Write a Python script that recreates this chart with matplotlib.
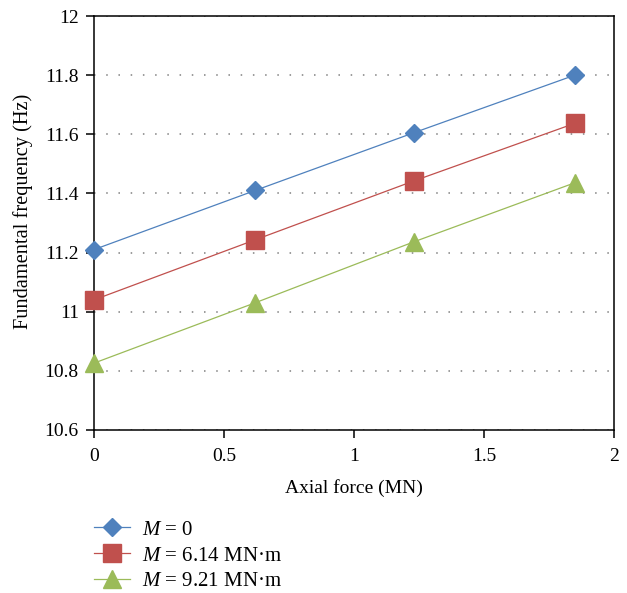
import matplotlib
matplotlib.use("Agg")
import matplotlib.pyplot as plt
from matplotlib.ticker import FuncFormatter, MultipleLocator

# ---------------------------
# Data
# ---------------------------
axial_force = [0, 0.62, 1.23, 1.85]
freq_m0 = [11.21, 11.41, 11.605, 11.80]
freq_m614 = [11.04, 11.243, 11.442, 11.637]
freq_m921 = [10.826, 11.03, 11.236, 11.436]

labels = ["$M$ = 0", "$M$ = 6.14 MN·m", "$M$ = 9.21 MN·m"]
colors = ["#4F81BD", "#C0504D", "#9BBB59"]

# ---------------------------
# Style
# ---------------------------
plt.rcParams["font.family"] = "Liberation Serif"
plt.rcParams["mathtext.fontset"] = "custom"
plt.rcParams["mathtext.rm"] = "Liberation Serif"
plt.rcParams["mathtext.it"] = "Liberation Serif:italic"

fig = plt.figure(figsize=(6.27, 5.93), dpi=100)
ax = fig.add_axes([0.150, 0.275, 0.829, 0.698])

ax.plot(axial_force, freq_m0, color=colors[0], lw=0.9, marker="D",
        ms=9.5, label=labels[0], clip_on=False, zorder=3)
ax.plot(axial_force, freq_m614, color=colors[1], lw=0.9, marker="s",
        ms=13, label=labels[1], clip_on=False, zorder=3)
ax.plot(axial_force, freq_m921, color=colors[2], lw=0.9, marker="^",
        ms=13.5, label=labels[2], clip_on=False, zorder=3)

ax.set_xlim(0, 2)
ax.set_ylim(10.6, 12)
ax.xaxis.set_major_locator(MultipleLocator(0.5))
ax.yaxis.set_major_locator(MultipleLocator(0.2))
fmt = FuncFormatter(lambda v, p: f"{v:g}")
ax.xaxis.set_major_formatter(fmt)
ax.yaxis.set_major_formatter(fmt)

ax.grid(axis="y", color="#808080", linestyle=(0, (1, 7)), lw=1.1)
ax.set_axisbelow(True)

for s in ax.spines.values():
    s.set_linewidth(1.1)
ax.tick_params(direction="out", length=6, width=1.1, labelsize=14)
ax.tick_params(axis="y", pad=5)
ax.tick_params(axis="x", pad=7)

ax.set_xlabel("Axial force (MN)", fontsize=14, labelpad=10)
ax.set_ylabel("Fundamental frequency (Hz)", fontsize=14.7)
ax.yaxis.set_label_coords(-0.118, 0.527)

fig.legend(loc="upper left", bbox_to_anchor=(0.136, 0.137), frameon=False,
           fontsize=15, handlelength=1.75, labelspacing=0.3, handletextpad=0.55,
           borderaxespad=0)

fig.savefig("out.png", dpi=100)
plt.close(fig)
